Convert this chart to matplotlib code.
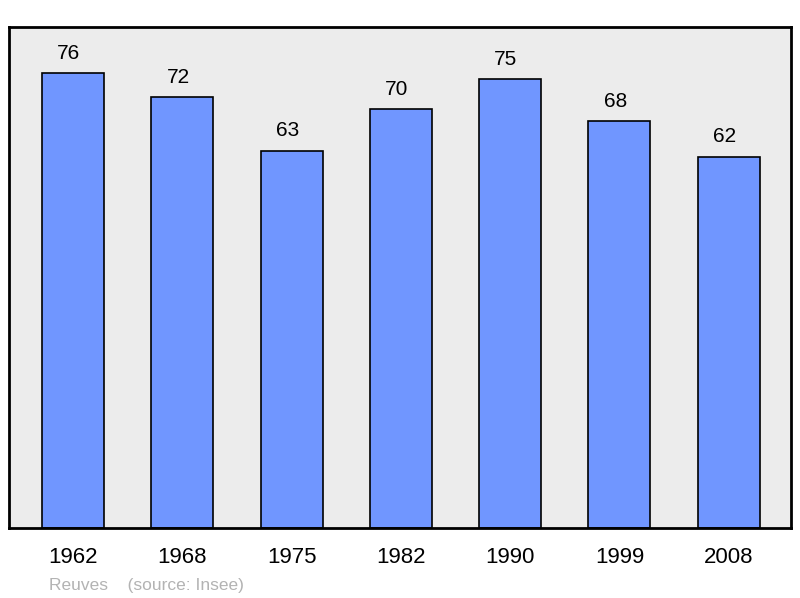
import matplotlib.pyplot as plt

years = ["1962", "1968", "1975", "1982", "1990", "1999", "2008"]
population = [76, 72, 63, 70, 75, 68, 62]

plt.rcParams['font.family'] = ['Liberation Sans', 'DejaVu Sans']

fig = plt.figure(figsize=(8, 5.98), dpi=100)
ax = fig.add_axes([9 / 800, 70 / 598, 782 / 800, 501 / 598])
ax.set_facecolor('#ececec')

x = list(range(len(years)))
ax.bar(x, population, width=0.567, color='#7096ff',
       edgecolor='black', linewidth=1.2, zorder=2)

# value labels sit a little left of the bar centre in the original
for xi, v in zip(x, population):
    ax.annotate(str(v), (xi, v), xytext=(-3, 7.5), textcoords='offset points',
                ha='center', va='bottom', fontsize=15)

ax.set_xlim(-0.585, 6.57)
ax.set_ylim(0, 83.7)
ax.set_xticks(x)
ax.set_xticklabels(years, fontsize=16)
ax.tick_params(axis='x', length=0, pad=14)
ax.set_yticks([])
for s in ax.spines.values():
    s.set_linewidth(2)
    s.set_color('black')

fig.text(49 / 800, 1 - 590 / 598, "Reuves    (source: Insee)",
         color='#b3b3b3', fontsize=12.5, ha='left', va='baseline')

fig.savefig('out.png', dpi=100)
